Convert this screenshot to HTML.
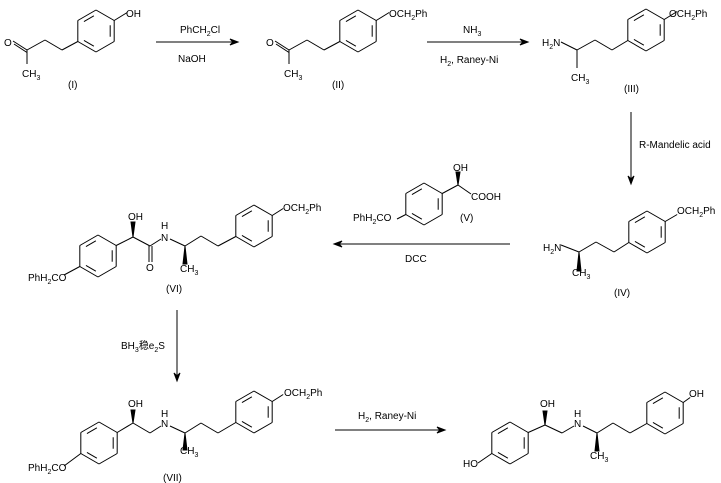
<!DOCTYPE html>
<html><head><meta charset="utf-8"><style>
html,body{margin:0;padding:0;background:#fff;}
svg{display:block;}
text{font-family:"Liberation Sans","Noto Sans CJK SC",sans-serif;font-size:10px;fill:#000;}
.s{font-size:7px;}
</style></head><body>
<svg id="sv" width="721" height="483" viewBox="0 0 721 483">
<g id="g" stroke="#000" stroke-width="1" fill="none"></g>
<text x="4" y="46">O</text>
<text x="22" y="77">CH<tspan class="s" dy="3">3</tspan></text>
<text x="126" y="17">OH</text>
<text x="68" y="88">(I)</text>
<text x="180" y="33">PhCH<tspan class="s" dy="3">2</tspan><tspan dy="-3">Cl</tspan></text>
<text x="178" y="62">NaOH</text>
<text x="266" y="46">O</text>
<text x="284" y="77">CH<tspan class="s" dy="3">3</tspan></text>
<text x="389" y="17">OCH<tspan class="s" dy="3">2</tspan><tspan dy="-3">Ph</tspan></text>
<text x="332" y="88">(II)</text>
<text x="463" y="33">NH<tspan class="s" dy="3">3</tspan></text>
<text x="440" y="63">H<tspan class="s" dy="3">2</tspan><tspan dy="-3">, Raney-Ni</tspan></text>
<text x="542" y="46">H<tspan class="s" dy="3">2</tspan><tspan dy="-3">N</tspan></text>
<text x="571" y="81">CH<tspan class="s" dy="3">3</tspan></text>
<text x="669" y="17">OCH<tspan class="s" dy="3">2</tspan><tspan dy="-3">Ph</tspan></text>
<text x="624" y="92">(III)</text>
<text x="639" y="148">R-Mandelic acid</text>
<text x="543" y="251">H<tspan class="s" dy="3">2</tspan><tspan dy="-3">N</tspan></text>
<text x="572" y="276">CH<tspan class="s" dy="3">3</tspan></text>
<text x="677" y="214">OCH<tspan class="s" dy="3">2</tspan><tspan dy="-3">Ph</tspan></text>
<text x="614" y="296">(IV)</text>
<text x="453" y="171">OH</text>
<text x="471" y="200">COOH</text>
<text x="353" y="221">PhH<tspan class="s" dy="3">2</tspan><tspan dy="-3">CO</tspan></text>
<text x="460" y="221">(V)</text>
<text x="405" y="262">DCC</text>
<text x="128" y="220">OH</text>
<text x="146" y="271">O</text>
<text x="161" y="229">H</text>
<text x="161" y="241">N</text>
<text x="180" y="272">CH<tspan class="s" dy="3">3</tspan></text>
<text x="283" y="211">OCH<tspan class="s" dy="3">2</tspan><tspan dy="-3">Ph</tspan></text>
<text x="28" y="281">PhH<tspan class="s" dy="3">2</tspan><tspan dy="-3">CO</tspan></text>
<text x="166" y="292">(VI)</text>
<text x="121" y="349">BH<tspan class="s" dy="3">3</tspan><tspan dy="-3">稳e</tspan><tspan class="s" dy="3">2</tspan><tspan dy="-3">S</tspan></text>
<text x="128" y="407">OH</text>
<text x="161" y="417">H</text>
<text x="161" y="427">N</text>
<text x="180" y="454">CH<tspan class="s" dy="3">3</tspan></text>
<text x="284" y="396">OCH<tspan class="s" dy="3">2</tspan><tspan dy="-3">Ph</tspan></text>
<text x="28" y="471">PhH<tspan class="s" dy="3">2</tspan><tspan dy="-3">CO</tspan></text>
<text x="163" y="481">(VII)</text>
<text x="358" y="419">H<tspan class="s" dy="3">2</tspan><tspan dy="-3">, Raney-Ni</tspan></text>
<text x="540" y="407">OH</text>
<text x="574" y="417">H</text>
<text x="574" y="427">N</text>
<text x="590" y="459">CH<tspan class="s" dy="3">3</tspan></text>
<text x="689" y="397">OH</text>
<text x="463" y="467">HO</text>
</svg>
<script>
var g=document.getElementById('g'),NS='http://www.w3.org/2000/svg';
function L(a,b,c,d){var e=document.createElementNS(NS,'line');e.setAttribute('x1',a);e.setAttribute('y1',b);e.setAttribute('x2',c);e.setAttribute('y2',d);g.appendChild(e);}
function P(pts){for(var i=0;i<pts.length-1;i++)L(pts[i][0],pts[i][1],pts[i+1][0],pts[i+1][1]);}
function ring(cx,cy,r){var v=[];for(var k=0;k<6;k++){var a=(-90+60*k)*Math.PI/180;v.push([cx+r*Math.cos(a),cy+r*Math.sin(a)]);}
for(var k=0;k<6;k++){var p=v[k],q=v[(k+1)%6];L(p[0],p[1],q[0],q[1]);}
[[5,0],[1,2],[3,4]].forEach(function(e){var p=v[e[0]],q=v[e[1]],f=0.78,s=0.15;
var a=[cx+(p[0]-cx)*f,cy+(p[1]-cy)*f],b=[cx+(q[0]-cx)*f,cy+(q[1]-cy)*f];
var m=[a[0]+(b[0]-a[0])*s,a[1]+(b[1]-a[1])*s],n=[b[0]+(a[0]-b[0])*s,b[1]+(a[1]-b[1])*s];L(m[0],m[1],n[0],n[1]);});return v;}
function W(x1,y1,x2,y2){var dx=x2-x1,dy=y2-y1,l=Math.hypot(dx,dy),nx=-dy/l*2,ny=dx/l*2;var p=document.createElementNS(NS,'polygon');p.setAttribute('points',x1+','+y1+' '+(x2+nx)+','+(y2+ny)+' '+(x2-nx)+','+(y2-ny));p.setAttribute('fill','#000');g.appendChild(p);}
function A(x1,y1,x2,y2){L(x1,y1,x2,y2);var dx=x2-x1,dy=y2-y1,l=Math.hypot(dx,dy),ux=dx/l,uy=dy/l;var p=document.createElementNS(NS,'polygon');
p.setAttribute('points',x2+','+y2+' '+(x2-8*ux-3*uy)+','+(y2-8*uy+3*ux)+' '+(x2-5*ux)+','+(y2-5*uy)+' '+(x2-8*ux+3*uy)+','+(y2-8*uy-3*ux));p.setAttribute('fill','#000');g.appendChild(p);}
[0,262].forEach(function(s){var v=ring(96+s,31,21);
P([[13+s,41],[27+s,50],[45+s,40],[62+s,50],[v[4][0],v[4][1]]]);L(14+s,44,27+s,52.5);L(27+s,50,27+s,64);
L(v[1][0],v[1][1],v[1][0]+13,v[1][1]-8);});
A(156,42,238,42);A(427,42,528,42);
var v=ring(646,30,21);P([[561,42],[577,50],[595,40],[612,50],[v[4][0],v[4][1]]]);L(577,50,577,68);L(v[1][0],v[1][1],v[1][0]+13,v[1][1]-8);
A(631,112,631,184);
v=ring(647,232,21);P([[561,245],[579,252],[596,242],[614,252],[v[4][0],v[4][1]]]);W(579,252,579,271);L(v[1][0],v[1][1],v[1][0]+12,v[1][1]-7);
A(510,244,334,244);
v=ring(424,204,21);P([[v[1][0],v[1][1]],[458,185],[471,194]]);W(458,185,458,172);L(v[4][0],v[4][1],397,219);
v=ring(98,256,21);P([[v[1][0],v[1][1]],[133,237],[150,246],[161,239]]);W(133,237,133,222);L(149,246,149,262);L(152,246,152,262);L(v[4][0],v[4][1],64,275);
var u=ring(254,226,21);P([[170,239],[185,246],[201,236],[218,246],[u[4][0],u[4][1]]]);W(185,246,185,264);L(u[1][0],u[1][1],u[1][0]+11,u[1][1]-7);
A(177,310,177,381);
v=ring(99,443,21);P([[v[1][0],v[1][1]],[133,423],[150,433],[161,426]]);W(133,423,133,410);L(v[4][0],v[4][1],64,466);
u=ring(254,412,21);P([[170,426],[185,433],[201,423],[218,433],[u[4][0],u[4][1]]]);W(185,433,185,450);L(u[1][0],u[1][1],u[1][0]+11,u[1][1]-7);
A(335,430,445,430);
v=ring(510,443,21);P([[v[1][0],v[1][1]],[545,425],[562,433],[574,426]]);W(545,425,545,411);L(v[4][0],v[4][1],478,463);
u=ring(665,413,21);P([[583,426],[597,433],[613,423],[630,433],[u[4][0],u[4][1]]]);W(597,433,597,451);L(u[1][0],u[1][1],u[1][0]+7,u[1][1]-5);
</script>
</body></html>
